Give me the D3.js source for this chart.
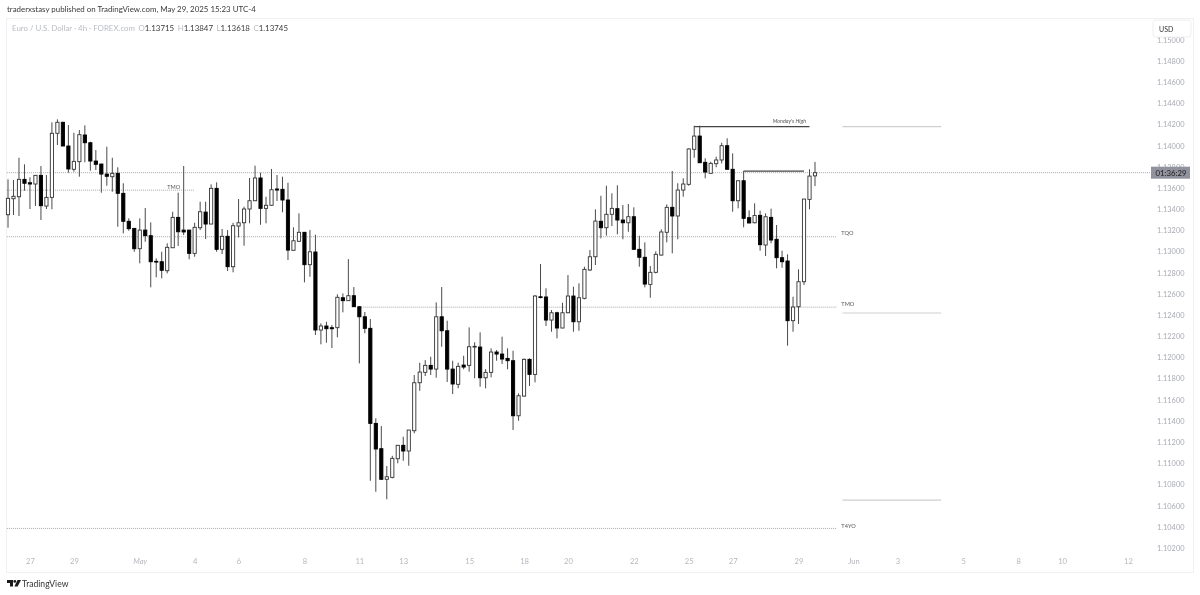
<!DOCTYPE html>
<html>
<head>
<meta charset="utf-8">
<script src="https://cdn.jsdelivr.net/npm/d3@7"></script>
<style>
  html, body { margin: 0; background: #fff; }
  svg { display: block; font-family: Lato, sans-serif; filter: blur(0.35px); }
</style>
</head>
<body>
<div id="chart"></div>
<script>
// EURUSD 4h candles
const opens = [
  1.13348,1.13499,1.13518,1.13682,1.13650,1.13638,1.13720,1.13430,1.13512,1.14117,
  1.14221,1.13997,1.13777,1.13849,1.14101,1.14028,1.13855,1.13827,1.13732,1.13707,
  1.13739,1.13550,1.13286,1.13219,1.13027,1.13203,1.13150,1.12908,1.12904,1.12819,
  1.13036,1.13323,1.13203,1.13203,1.12983,1.13225,1.13373,1.13260,1.13597,1.13021,
  1.13144,1.12857,1.13241,1.13272,1.13402,1.13480,1.13695,1.13408,1.13437,1.13591,
  1.13588,1.13487,1.13012,1.13097,1.13182,1.12876,1.12996,1.12259,1.12297,1.12281,
  1.12281,1.12564,1.12536,1.12583,1.12479,1.12384,1.12275,1.11377,1.11138,1.10849,
  1.10867,1.11043,1.11170,1.11116,1.11308,1.11761,1.11859,1.11925,1.11890,1.12384,
  1.12252,1.11890,1.11746,1.11928,1.11925,1.12098,1.12098,1.11808,1.11859,1.12051,
  1.12032,1.11991,1.11969,1.11449,1.11635,1.11982,1.11840,1.12573,1.12571,1.12353,
  1.12422,1.12278,1.12422,1.12580,1.12337,1.12558,1.12826,1.12951,1.13286,1.13225,
  1.13352,1.13405,1.13298,1.13272,1.13329,1.13021,1.12946,1.12690,1.12804,1.12967,
  1.13182,1.13418,1.13336,1.13581,1.13635,1.13966,1.14091,1.13843,1.13739,1.13830,
  1.13865,1.14000,1.13777,1.13480,1.13669,1.13320,1.13272,1.13342,1.13062,1.13323,
  1.13116,1.12942,1.12911,1.12347,1.12479,1.12715,1.13493,1.13715
];
const highs = [
  1.13682,1.13676,1.13886,1.13824,1.13701,1.13723,1.13808,1.13723,1.14221,1.14249,
  1.14226,1.14195,1.14122,1.14148,1.14192,1.14037,1.13959,1.13827,1.13990,1.13886,
  1.13796,1.13645,1.13314,1.13219,1.13314,1.13411,1.13276,1.12936,1.12998,1.13078,
  1.13376,1.13556,1.13808,1.13203,1.13272,1.13471,1.13471,1.13635,1.13654,1.13213,
  1.13203,1.13272,1.13496,1.13424,1.13695,1.13811,1.13745,1.13518,1.13780,1.13723,
  1.13707,1.13650,1.13229,1.13361,1.13185,1.13203,1.13159,1.12322,1.12337,1.12306,
  1.12596,1.12605,1.12929,1.12665,1.12479,1.12429,1.12363,1.11425,1.11352,1.10974,
  1.11071,1.11173,1.11251,1.11314,1.11834,1.11950,1.11975,1.12007,1.12520,1.12665,
  1.12347,1.11969,1.11950,1.12016,1.12284,1.12143,1.12237,1.11890,1.12086,1.12070,
  1.12196,1.12086,1.12063,1.11661,1.11991,1.11991,1.12589,1.12882,1.12653,1.12448,
  1.12432,1.12517,1.12778,1.12668,1.12700,1.12857,1.13014,1.13399,1.13527,1.13622,
  1.13550,1.13626,1.13440,1.13449,1.13418,1.13150,1.13087,1.12863,1.13002,1.13210,
  1.13446,1.13761,1.13645,1.13692,1.13975,1.14189,1.14189,1.13881,1.13849,1.13896,
  1.14028,1.14070,1.13928,1.13669,1.13761,1.13389,1.13456,1.13386,1.13361,1.13405,
  1.13251,1.13008,1.12974,1.12573,1.12832,1.13496,1.13777,1.13847
];
const lows = [
  1.13225,1.13345,1.13336,1.13575,1.13402,1.13430,1.13298,1.13402,1.13399,1.14006,
  1.13997,1.13745,1.13754,1.13707,1.13843,1.13764,1.13770,1.13556,1.13622,1.13565,
  1.13235,1.13172,1.13197,1.12998,1.12889,1.13093,1.12662,1.12757,1.12747,1.12794,
  1.13036,1.13052,1.13156,1.12927,1.12951,1.13203,1.13118,1.13260,1.12998,1.12977,
  1.12816,1.12804,1.13134,1.13055,1.13267,1.13480,1.13253,1.13267,1.13433,1.13477,
  1.13371,1.12920,1.13008,1.13093,1.12709,1.12762,1.12212,1.12124,1.12139,1.12089,
  1.12190,1.12426,1.12536,1.12479,1.11944,1.12228,1.10835,1.10731,1.10842,1.10660,
  1.10858,1.11000,1.11024,1.10977,1.11283,1.11685,1.11824,1.11834,1.11808,1.12101,
  1.11768,1.11654,1.11708,1.11888,1.11865,1.11803,1.11723,1.11708,1.11812,1.11969,
  1.11938,1.11888,1.11314,1.11402,1.11629,1.11730,1.11765,1.12558,1.12297,1.12243,
  1.12180,1.12275,1.12417,1.12243,1.12252,1.12549,1.12816,1.12873,1.13125,1.13150,
  1.13241,1.13163,1.13116,1.13187,1.13021,1.12857,1.12662,1.12564,1.12794,1.12961,
  1.13087,1.12983,1.13116,1.13518,1.13622,1.13886,1.13839,1.13692,1.13739,1.13796,
  1.13833,1.13777,1.13376,1.13408,1.13229,1.13267,1.13267,1.13008,1.12958,1.13078,
  1.12842,1.12847,1.12111,1.12243,1.12316,1.12684,1.13399,1.13618
];
const closes = [
  1.13503,1.13522,1.13682,1.13645,1.13638,1.13720,1.13433,1.13512,1.14117,1.14221,
  1.13997,1.13780,1.13852,1.14104,1.14028,1.13855,1.13824,1.13732,1.13711,1.13739,
  1.13550,1.13286,1.13216,1.13027,1.13203,1.13150,1.12904,1.12901,1.12823,1.13040,
  1.13323,1.13187,1.13185,1.12983,1.13229,1.13376,1.13260,1.13597,1.13021,1.13144,
  1.12857,1.13244,1.13272,1.13402,1.13480,1.13695,1.13408,1.13437,1.13584,1.13581,
  1.13487,1.13014,1.13102,1.13182,1.12876,1.12998,1.12259,1.12297,1.12271,1.12271,
  1.12568,1.12536,1.12583,1.12479,1.12384,1.12275,1.11377,1.11135,1.10849,1.10873,
  1.11047,1.11170,1.11116,1.11314,1.11761,1.11862,1.11925,1.11890,1.12384,1.12252,
  1.11890,1.11749,1.11916,1.11909,1.12101,1.12105,1.11808,1.11859,1.12051,1.12032,
  1.11985,1.11969,1.11449,1.11638,1.11982,1.11840,1.12580,1.12568,1.12353,1.12422,
  1.12278,1.12422,1.12580,1.12337,1.12564,1.12832,1.12951,1.13288,1.13225,1.13352,
  1.13408,1.13298,1.13272,1.13329,1.13021,1.12946,1.12693,1.12804,1.12974,1.13185,
  1.13418,1.13336,1.13581,1.13638,1.13969,1.14091,1.13839,1.13751,1.13833,1.13865,
  1.14000,1.13777,1.13480,1.13669,1.13314,1.13270,1.13340,1.13065,1.13329,1.13109,
  1.12942,1.12904,1.12347,1.12476,1.12715,1.13496,1.13713,1.13745
];

// axis labels, positions are candle numbers
const dateTicks = [4, 12, 24, 34, 42, 54, 64, 72, 84, 94, 102, 114, 124, 132, 144, 154, 162, 174, 184, 192, 204];
const dateLabels = ["27", "29", "May", "4", "6", "8", "11", "13", "15", "18", "20", "22", "25", "27", "29", "Jun", "3", "5", "8", "10", "12"];
const priceTicks = [
  1.150, 1.148, 1.146, 1.144, 1.142, 1.140, 1.138, 1.136, 1.134, 1.132, 1.130, 1.128, 1.126,
  1.124, 1.122, 1.120, 1.118, 1.116, 1.114, 1.112, 1.110, 1.108, 1.106, 1.104, 1.102
];

// drawn levels: price, first and last candle number
const dottedPrices = [1.13745, 1.13580, 1.13140, 1.12475, 1.10385];
const dottedFrom = [-0.2, -0.2, -0.2, 64, -0.2];
const dottedTo = [208, 34, 151, 151, 151];
const solidPrices = [1.14180, 1.13760];
const solidFrom = [125, 134];
const solidTo = [146, 145];
const greyPrices = [1.14180, 1.12420, 1.10652];
const greyFrom = [152, 152, 152];
const greyTo = [170, 170, 170];
const levelNames = ["TMO", "TQO", "TMO", "T4YO"];
const levelNameX = [29, 151.8, 151.8, 151.8];
const levelNameY = [1.13590, 1.13156, 1.12486, 1.10389];

const width = 1200;
const height = 595;

const x = d3.scaleLinear().domain([0, 147]).range([8, 815]);
const y = d3.scaleLinear().domain([1.148, 1.102]).range([61, 548]);

const svg = d3.select("#chart").append("svg")
  .attr("width", width)
  .attr("height", height);

// Chart frame
svg.append("rect")
  .attr("x", 6.5).attr("y", 18.5)
  .attr("width", 1187).attr("height", 554)
  .attr("fill", "#fff")
  .attr("stroke", "#f1f1f3");

// Published-by line
svg.append("text")
  .attr("x", 7).attr("y", 12)
  .attr("font-size", 7.9)
  .attr("fill", "#3a3a3a")
  .text("traderxstasy published on TradingView.com, May 29, 2025 15:23 UTC-4");

// Symbol legend
const legend = svg.append("text")
  .attr("x", 12).attr("y", 31)
  .attr("font-size", 7.9);
legend.append("tspan").attr("fill", "#b9bcc4").text("Euro / U.S. Dollar · 4h · FOREX.com");
[["O", opens], ["H", highs], ["L", lows], ["C", closes]].forEach(([key, series]) => {
  legend.append("tspan").attr("dx", 3.5).attr("fill", "#b9bcc4").text(key);
  legend.append("tspan").attr("fill", "#3a3a3a").text(series[series.length - 1].toFixed(5));
});

// Dotted levels
svg.append("g").selectAll("line")
  .data(dottedPrices)
  .join("line")
  .attr("x1", (d, i) => x(dottedFrom[i]))
  .attr("x2", (d, i) => x(dottedTo[i]))
  .attr("y1", d => y(d))
  .attr("y2", d => y(d))
  .attr("stroke", "#a8a8a8")
  .attr("stroke-width", 1)
  .attr("stroke-dasharray", "1 1");

// Price axis
const priceAxis = d3.axisRight(y)
  .tickValues(priceTicks)
  .tickSize(0)
  .tickPadding(0)
  .tickFormat(d => d.toFixed(5));
svg.append("g")
  .attr("transform", "translate(1157,0)")
  .call(priceAxis)
  .call(g => g.select(".domain").remove())
  .selectAll("text")
  .attr("font-size", 7.4)
  .attr("font-family", "Lato, sans-serif")
  .attr("fill", "#a9acb4");

// Date axis
const dateAxis = d3.axisBottom(x)
  .tickValues(dateTicks)
  .tickSize(0)
  .tickPadding(0)
  .tickFormat((d, i) => dateLabels[i]);
svg.append("g")
  .attr("transform", "translate(0,559)")
  .call(dateAxis)
  .call(g => g.select(".domain").remove())
  .selectAll("text")
  .attr("font-size", 7.6)
  .attr("font-family", "Lato, sans-serif")
  .attr("fill", "#b4b7be")
  .attr("font-style", (d, i) => dateLabels[i] === "May" ? "italic" : null);

// Grey reference lines
svg.append("g").selectAll("line")
  .data(greyPrices)
  .join("line")
  .attr("x1", (d, i) => x(greyFrom[i]))
  .attr("x2", (d, i) => x(greyTo[i]))
  .attr("y1", d => y(d))
  .attr("y2", d => y(d))
  .attr("stroke", "#cfcfcf")
  .attr("stroke-width", 1.1);

// Candles: wick first, body on top
const candles = svg.append("g").selectAll("g")
  .data(opens)
  .join("g");

candles.append("line")
  .attr("x1", (d, i) => x(i))
  .attr("x2", (d, i) => x(i))
  .attr("y1", (d, i) => y(highs[i]))
  .attr("y2", (d, i) => y(lows[i]))
  .attr("stroke", "#4a4a4a")
  .attr("stroke-width", 1);

candles.append("rect")
  .attr("x", (d, i) => x(i) - 1.6)
  .attr("width", 3.2)
  .attr("y", (d, i) => y(Math.max(opens[i], closes[i])))
  .attr("height", (d, i) => Math.max(0.8, Math.abs(y(opens[i]) - y(closes[i]))))
  .attr("fill", (d, i) => closes[i] >= opens[i] ? "#fff" : "#000")
  .attr("stroke", (d, i) => closes[i] >= opens[i] ? "#333" : "#000")
  .attr("stroke-width", 0.9);

// Solid levels from the highs
svg.append("g").selectAll("line")
  .data(solidPrices)
  .join("line")
  .attr("x1", (d, i) => x(solidFrom[i]))
  .attr("x2", (d, i) => x(solidTo[i]))
  .attr("y1", d => y(d))
  .attr("y2", d => y(d))
  .attr("stroke", "#444")
  .attr("stroke-width", 1.1);

svg.append("text")
  .attr("x", 806).attr("y", 122.5)
  .attr("text-anchor", "end")
  .attr("font-size", 5.4)
  .attr("font-style", "italic")
  .attr("fill", "#555")
  .text("Monday's High");

// Level names
svg.append("g").selectAll("text")
  .data(levelNames)
  .join("text")
  .attr("x", (d, i) => x(levelNameX[i]))
  .attr("y", (d, i) => y(levelNameY[i]))
  .attr("font-size", 5.6)
  .attr("fill", "#555")
  .text(d => d);

// Current price tag
const lastY = y(closes[closes.length - 1]);
svg.append("rect")
  .attr("x", 1151).attr("y", lastY - 6)
  .attr("width", 39).attr("height", 12)
  .attr("fill", "#90939d");
svg.append("text")
  .attr("x", 1171).attr("y", lastY + 3)
  .attr("text-anchor", "middle")
  .attr("font-size", 7.8)
  .attr("fill", "#1c1c1c")
  .text("01:36:29");

// Currency button
svg.append("rect")
  .attr("x", 1153).attr("y", 20)
  .attr("width", 38).attr("height", 17)
  .attr("rx", 3)
  .attr("fill", "#fff")
  .attr("stroke", "#eeeeef");
svg.append("text")
  .attr("x", 1159).attr("y", 31.5)
  .attr("font-size", 7)
  .attr("fill", "#333")
  .text("USD");

// TradingView mark and name
const logo = svg.append("g").attr("transform", "translate(7,580)").attr("fill", "#1a1a1a");
logo.append("path").attr("d", "M0 0H6V6.5H3V3H0Z");
logo.append("circle").attr("cx", 7.8).attr("cy", 1.4).attr("r", 1.4);
logo.append("path").attr("d", "M10.5 0H14L10.6 6.5H7.4Z");
svg.append("text")
  .attr("x", 22).attr("y", 587)
  .attr("font-size", 8.6)
  .attr("fill", "#333")
  .text("TradingView");
</script>
</body>
</html>
